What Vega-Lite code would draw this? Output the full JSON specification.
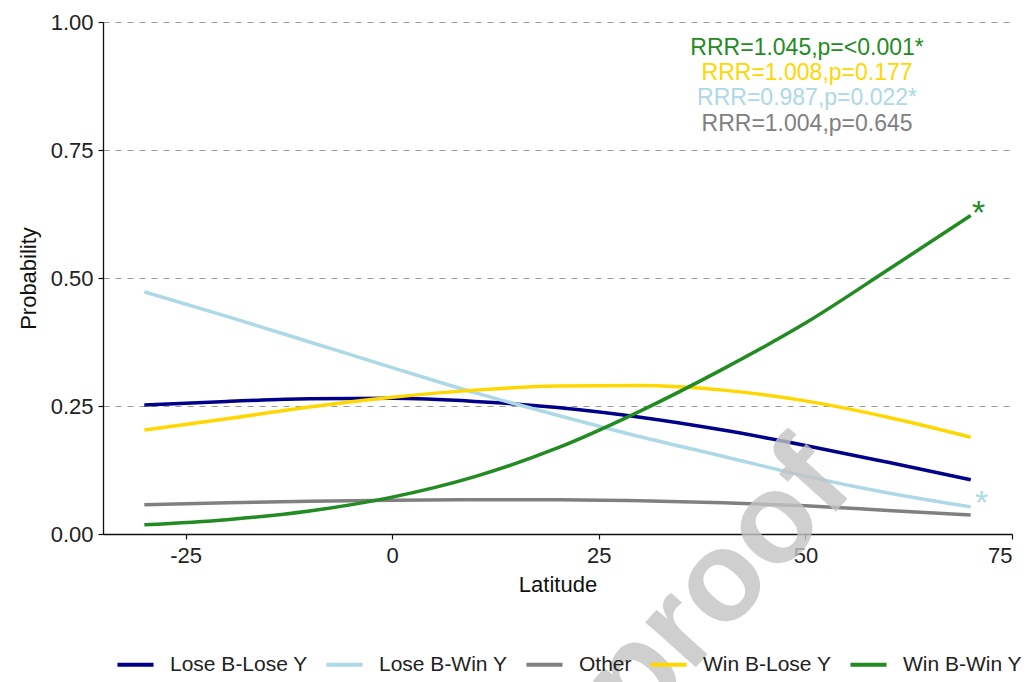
{
  "$schema": "https://vega.github.io/schema/vega-lite/v6.json",
  "width": 909,
  "height": 512,
  "autosize": {"type": "none"},
  "padding": {"left": 103, "top": 22, "right": 18, "bottom": 148},
  "background": "white",
  "config": {
    "view": {"stroke": null},
    "font": "Liberation Sans",
    "axis": {
      "domainColor": "#111",
      "domainWidth": 1.3,
      "tickColor": "#111",
      "tickWidth": 1.2,
      "tickSize": 5,
      "labelFont": "Liberation Sans",
      "labelFontSize": 22,
      "labelColor": "#222",
      "titleFont": "Liberation Sans",
      "titleFontSize": 22,
      "titleFontWeight": "normal",
      "titleColor": "#111"
    }
  },
  "layer": [
    {
      "data": {
        "values": [
          {"lat": -30, "prob": 0.252, "outcome": "Lose B-Lose Y"},
          {"lat": -20, "prob": 0.259, "outcome": "Lose B-Lose Y"},
          {"lat": -10, "prob": 0.264, "outcome": "Lose B-Lose Y"},
          {"lat": 0, "prob": 0.265, "outcome": "Lose B-Lose Y"},
          {"lat": 10, "prob": 0.259, "outcome": "Lose B-Lose Y"},
          {"lat": 20, "prob": 0.247, "outcome": "Lose B-Lose Y"},
          {"lat": 30, "prob": 0.228, "outcome": "Lose B-Lose Y"},
          {"lat": 40, "prob": 0.203, "outcome": "Lose B-Lose Y"},
          {"lat": 50, "prob": 0.173, "outcome": "Lose B-Lose Y"},
          {"lat": 60, "prob": 0.140, "outcome": "Lose B-Lose Y"},
          {"lat": 70, "prob": 0.106, "outcome": "Lose B-Lose Y"},
          {"lat": -30, "prob": 0.473, "outcome": "Lose B-Win Y"},
          {"lat": -20, "prob": 0.425, "outcome": "Lose B-Win Y"},
          {"lat": -10, "prob": 0.375, "outcome": "Lose B-Win Y"},
          {"lat": 0, "prob": 0.325, "outcome": "Lose B-Win Y"},
          {"lat": 10, "prob": 0.276, "outcome": "Lose B-Win Y"},
          {"lat": 20, "prob": 0.232, "outcome": "Lose B-Win Y"},
          {"lat": 30, "prob": 0.190, "outcome": "Lose B-Win Y"},
          {"lat": 40, "prob": 0.152, "outcome": "Lose B-Win Y"},
          {"lat": 50, "prob": 0.113, "outcome": "Lose B-Win Y"},
          {"lat": 60, "prob": 0.080, "outcome": "Lose B-Win Y"},
          {"lat": 70, "prob": 0.053, "outcome": "Lose B-Win Y"},
          {"lat": -30, "prob": 0.057, "outcome": "Other"},
          {"lat": -20, "prob": 0.061, "outcome": "Other"},
          {"lat": -10, "prob": 0.064, "outcome": "Other"},
          {"lat": 0, "prob": 0.066, "outcome": "Other"},
          {"lat": 10, "prob": 0.067, "outcome": "Other"},
          {"lat": 20, "prob": 0.067, "outcome": "Other"},
          {"lat": 30, "prob": 0.065, "outcome": "Other"},
          {"lat": 40, "prob": 0.061, "outcome": "Other"},
          {"lat": 50, "prob": 0.055, "outcome": "Other"},
          {"lat": 60, "prob": 0.046, "outcome": "Other"},
          {"lat": 70, "prob": 0.037, "outcome": "Other"},
          {"lat": -30, "prob": 0.203, "outcome": "Win B-Lose Y"},
          {"lat": -20, "prob": 0.225, "outcome": "Win B-Lose Y"},
          {"lat": -10, "prob": 0.248, "outcome": "Win B-Lose Y"},
          {"lat": 0, "prob": 0.267, "outcome": "Win B-Lose Y"},
          {"lat": 10, "prob": 0.281, "outcome": "Win B-Lose Y"},
          {"lat": 20, "prob": 0.289, "outcome": "Win B-Lose Y"},
          {"lat": 30, "prob": 0.290, "outcome": "Win B-Lose Y"},
          {"lat": 40, "prob": 0.281, "outcome": "Win B-Lose Y"},
          {"lat": 50, "prob": 0.260, "outcome": "Win B-Lose Y"},
          {"lat": 60, "prob": 0.228, "outcome": "Win B-Lose Y"},
          {"lat": 70, "prob": 0.189, "outcome": "Win B-Lose Y"},
          {"lat": -30, "prob": 0.018, "outcome": "Win B-Win Y"},
          {"lat": -20, "prob": 0.028, "outcome": "Win B-Win Y"},
          {"lat": -10, "prob": 0.045, "outcome": "Win B-Win Y"},
          {"lat": 0, "prob": 0.072, "outcome": "Win B-Win Y"},
          {"lat": 10, "prob": 0.112, "outcome": "Win B-Win Y"},
          {"lat": 20, "prob": 0.168, "outcome": "Win B-Win Y"},
          {"lat": 30, "prob": 0.240, "outcome": "Win B-Win Y"},
          {"lat": 40, "prob": 0.322, "outcome": "Win B-Win Y"},
          {"lat": 50, "prob": 0.412, "outcome": "Win B-Win Y"},
          {"lat": 60, "prob": 0.516, "outcome": "Win B-Win Y"},
          {"lat": 70, "prob": 0.622, "outcome": "Win B-Win Y"}
        ]
      },
      "mark": {"type": "line", "strokeWidth": 3.5, "interpolate": "monotone", "strokeCap": "butt"},
      "encoding": {
        "x": {
          "field": "lat", "type": "quantitative",
          "scale": {"domain": [-35, 75], "nice": false, "zero": false},
          "axis": {"values": [-25, 0, 25, 50, 75], "labelExpr": "replace(datum.label, '\u2212', '-')", "title": "Latitude", "grid": false, "labelPadding": 6, "titlePadding": 8}
        },
        "y": {
          "field": "prob", "type": "quantitative",
          "scale": {"domain": [0, 1], "nice": false},
          "axis": {"values": [0, 0.25, 0.5, 0.75, 1], "format": ".2f", "title": "Probability", "grid": true, "gridDash": [6, 6], "gridColor": "#9a9a9a", "gridWidth": 1, "labelPadding": 5, "titlePadding": 10}
        },
        "color": {
          "field": "outcome", "type": "nominal",
          "scale": {
            "domain": ["Lose B-Lose Y", "Lose B-Win Y", "Other", "Win B-Lose Y", "Win B-Win Y"],
            "range": ["#00008B", "#ADD8E6", "#808080", "#FFD700", "#228B22"]
          },
          "legend": {
            "title": null,
            "orient": "none",
            "direction": "horizontal",
            "legendX": 12,
            "legendY": 622,
            "symbolType": "stroke",
            "symbolStrokeWidth": 4,
            "symbolSize": 1300,
            "labelFont": "Liberation Sans",
            "labelFontSize": 21,
            "labelColor": "#222",
            "labelOffset": 14,
            "columnPadding": 10
          }
        }
      }
    },
    {
      "data": {"values": [{}]},
      "mark": {"type": "text", "text": "RRR=1.045,p=<0.001*", "fontSize": 23, "color": "#228B22", "align": "center", "baseline": "middle"},
      "encoding": {"x": {"datum": 50.2, "type": "quantitative"}, "y": {"datum": 0.949, "type": "quantitative"}}
    },
    {
      "data": {"values": [{}]},
      "mark": {"type": "text", "text": "RRR=1.008,p=0.177", "fontSize": 23, "color": "#FFD700", "align": "center", "baseline": "middle"},
      "encoding": {"x": {"datum": 50.2, "type": "quantitative"}, "y": {"datum": 0.900, "type": "quantitative"}}
    },
    {
      "data": {"values": [{}]},
      "mark": {"type": "text", "text": "RRR=0.987,p=0.022*", "fontSize": 23, "color": "#ADD8E6", "align": "center", "baseline": "middle"},
      "encoding": {"x": {"datum": 50.2, "type": "quantitative"}, "y": {"datum": 0.852, "type": "quantitative"}}
    },
    {
      "data": {"values": [{}]},
      "mark": {"type": "text", "text": "RRR=1.004,p=0.645", "fontSize": 23, "color": "#808080", "align": "center", "baseline": "middle"},
      "encoding": {"x": {"datum": 50.2, "type": "quantitative"}, "y": {"datum": 0.801, "type": "quantitative"}}
    },
    {
      "data": {"values": [{}]},
      "mark": {"type": "text", "text": "*", "fontSize": 34, "color": "#228B22", "align": "center", "baseline": "middle", "dx": 8, "dy": -2},
      "encoding": {"x": {"datum": 70, "type": "quantitative"}, "y": {"datum": 0.622, "type": "quantitative"}}
    },
    {
      "data": {"values": [{}]},
      "mark": {"type": "text", "text": "*", "fontSize": 34, "color": "#ADD8E6", "align": "center", "baseline": "middle", "dx": 11, "dy": -3},
      "encoding": {"x": {"datum": 70, "type": "quantitative"}, "y": {"datum": 0.053, "type": "quantitative"}}
    },
    {
      "data": {"values": [{}]},
      "mark": {"type": "text", "text": "proof", "fontSize": 128, "fontWeight": "bold", "color": "#c4c4c4", "opacity": 0.8, "align": "center", "baseline": "middle", "angle": 312},
      "encoding": {"x": {"datum": 39.5, "type": "quantitative"}, "y": {"datum": -0.1, "type": "quantitative"}}
    }
  ]
}
